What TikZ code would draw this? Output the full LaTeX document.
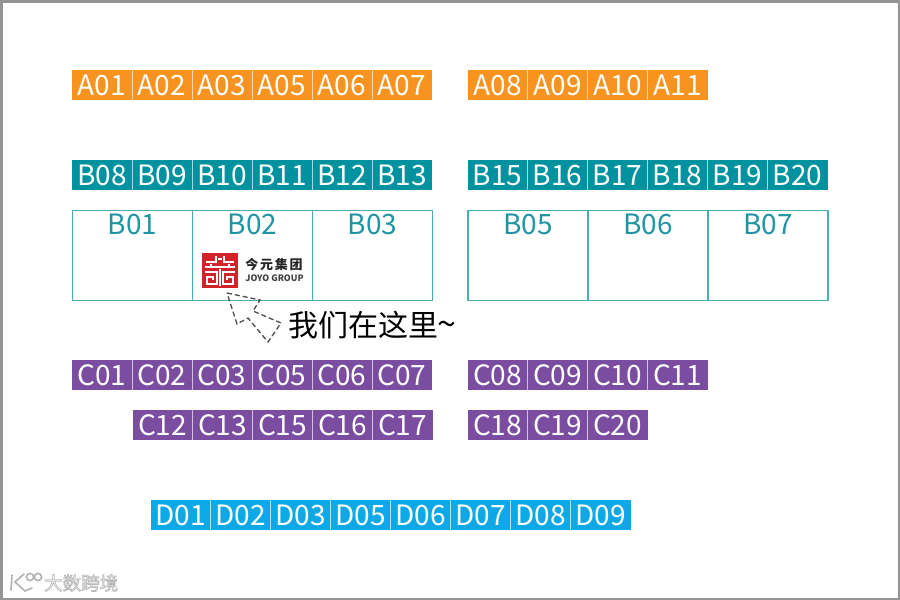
\documentclass[tikz,border=0pt]{standalone}
\usepackage{fontspec}
\setmainfont{Noto Sans}
\newfontfamily\cjk{Noto Sans CJK SC}
\definecolor{orangeC}{HTML}{F7931E}
\definecolor{tealC}{HTML}{00929F}
\definecolor{purpleC}{HTML}{7B4DA0}
\definecolor{blueC}{HTML}{0DA9E6}
\definecolor{edgeC}{HTML}{45AEB6}
\definecolor{tealT}{HTML}{1F95A1}
\definecolor{redC}{HTML}{D2232A}
\tikzset{
 booth/.style={minimum width=60pt,minimum height=30pt,inner sep=0pt,outer sep=0pt,anchor=north west,text=white,font=\cjk\fontsize{28}{28}\selectfont,fill=#1},
 boothsep/.style={draw=white!65!#1,line width=1pt},
 stand/.style={minimum width=120pt,minimum height=90pt,inner sep=0pt,outer sep=0pt,anchor=north west,draw=edgeC,line width=1.5pt},
 standlabel/.style={text=tealT,font=\cjk\fontsize{28}{28}\selectfont,inner sep=0pt},
 logoline/.style={white,line width=2pt,line cap=butt,line join=miter},
 here/.style={draw=black!70,dash pattern=on 5pt off 3pt,line width=1.3pt},
 wm/.style={text=white,inner sep=0pt,anchor=west}
}
\newcommand{\boothrow}[4]{% colour, x, y, list
 \foreach \lab [count=\i from 0] in {#4}{
  \node[booth=#1] (\lab) at ({#2+60*\i},#3) {\lab};
  \ifnum\i>0 \draw[boothsep=#1] (\lab.north west) -- (\lab.south west);\fi}}
\begin{document}
\begin{tikzpicture}[x=1pt,y=-1pt]
\useasboundingbox (0,0) rectangle (900,600);
\fill[white] (0,0) rectangle (900,600);
\draw[black!42,line width=3pt] (1,1) rectangle (899,599);
\boothrow{orangeC}{72}{70}{A01,A02,A03,A05,A06,A07}
\boothrow{orangeC}{467.5}{70}{A08,A09,A10,A11}
\boothrow{tealC}{72}{160}{B08,B09,B10,B11,B12,B13}
\boothrow{tealC}{467.5}{160}{B15,B16,B17,B18,B19,B20}
\foreach \lab [count=\i from 0] in {B01,B02,B03}{
  \node[stand] (\lab) at ({72.5+120*\i},210.5) {};
  \node[standlabel] (\lab t) at ({132.5+120*\i},224) {\lab};}
\foreach \lab [count=\i from 0] in {B05,B06,B07}{
  \node[stand] (\lab) at ({468+120*\i},210.5) {};
  \node[standlabel] (\lab t) at ({528+120*\i},224) {\lab};}
\boothrow{purpleC}{72}{360}{C01,C02,C03,C05,C06,C07}
\boothrow{purpleC}{467.5}{360}{C08,C09,C10,C11}
\boothrow{purpleC}{132.5}{410}{C12,C13,C15,C16,C17}
\boothrow{purpleC}{467.5}{410}{C18,C19,C20}
\boothrow{blueC}{150.5}{500}{D01,D02,D03,D05,D06,D07,D08,D09}
% logo
\fill[redC] (202.3,252.7) rectangle (237.5,287.5);
\begin{scope}[shift={(202,253)}]
\draw[logoline] (4,9) -- (14,9) -- (14,3);
\draw[logoline] (32,9) -- (22,9) -- (22,3);
\draw[logoline] (16,6) -- (20,6);
\draw[logoline] (3,14) -- (33,14);
\draw[logoline] (9,11) -- (9,14) (27,11) -- (27,14);
\draw[logoline] (3,19) -- (15,19) -- (15,31) -- (5,31) -- (5,23.5) -- (11,23.5) -- (11,27);
\draw[logoline] (33,19) -- (21,19) -- (21,31) -- (31,31) -- (31,23.5) -- (25,23.5) -- (25,27);
\draw[logoline] (18,16) -- (18,33);
\end{scope}
\node[inner sep=0pt,text=black!85] (logotext) at (274,265) {\cjk\bfseries\fontsize{13}{13}\selectfont 今\hspace{1.7pt}元\hspace{1.7pt}集\hspace{1.7pt}团};
\node[inner sep=0pt,text=black!75] (logoen) at (274.5,278) {\cjk\bfseries\fontsize{8.8}{8.8}\selectfont JOYO GROUP};
% pointer
\draw[here] (227,293) -- (260,300) -- (253,311) -- (281,323) -- (268,342) -- (248,318) -- (237,324) -- cycle;
\node[inner sep=0pt,anchor=west,text=black] (here) at (288,325) {\cjk\fontsize{30}{30}\selectfont 我们在这里\hspace{-1pt}{\fontsize{34}{34}\selectfont\symbol{126}}};
% watermark
\begin{scope}[black!30,line width=1.6pt,line cap=round]
\draw (12,575) -- (11,590);
\draw (24,574) -- (15,582) -- (25,591) -- (32,588);
\draw (30,577) circle (3.6);
\draw (38,577) circle (3.6);
\end{scope}
\node[wm] (wmtext) at (44,583) {\special{pdf:code 2 Tr 0.7 w 0.72 G}\cjk\fontsize{18.5}{18.5}\selectfont 大数跨境\special{pdf:code 0 Tr}};
\end{tikzpicture}
\end{document}
